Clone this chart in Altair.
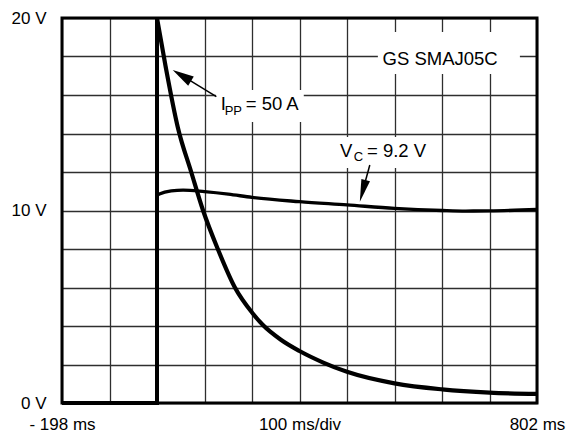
import altair as alt
import pandas as pd

# ---- data (x in divisions of 100 ms starting at -198 ms, y in volts / scale units) ----
cur_x = [2.0, 2.18, 2.44, 2.72, 2.97, 3.28, 3.64, 4.0, 4.23, 4.6, 5.0, 5.5, 6.0, 7.0, 8.0, 9.0, 10.0]
cur_y = [20.0, 17.5, 14.3, 12.0, 10.0, 8.0, 6.0, 4.7, 4.05, 3.3, 2.7, 2.1, 1.62, 1.02, 0.71, 0.54, 0.47]

vc_x = [2.0, 2.05, 2.3, 2.55, 3.0, 3.5, 4.0, 5.0, 6.0, 7.0, 8.0, 8.5, 9.0, 10.0]
vc_y = [10.8, 10.86, 11.02, 11.06, 10.98, 10.85, 10.68, 10.46, 10.29, 10.11, 10.0, 9.97, 9.98, 10.05]

step_x = [0.0, 2.0, 2.0]
step_cur_y = [0.0, 0.0, 20.0]
step_vc_y = [0.0, 0.0, 10.8]

x_ticks = list(range(11))
y_ticks = list(range(0, 21, 2))

FONT = "Liberation Sans"

curve_df = pd.concat([
    pd.DataFrame({"x": cur_x, "y": cur_y, "s": "I", "o": range(len(cur_x))}),
    pd.DataFrame({"x": vc_x, "y": vc_y, "s": "V", "o": range(len(vc_x))}),
])
step_df = pd.concat([
    pd.DataFrame({"x": step_x, "y": step_cur_y, "s": "I", "o": range(3)}),
    pd.DataFrame({"x": step_x, "y": step_vc_y, "s": "V", "o": range(3)}),
])

xs = alt.Scale(domain=[0, 10], nice=False, zero=False)
ys = alt.Scale(domain=[0, 20], nice=False, zero=False)

x_axis = alt.Axis(
    values=x_ticks, grid=True, ticks=False, domain=False, title=None,
    labelExpr="datum.value == 0 ? '- 198 ms' : datum.value == 5 ? '100 ms/div' : datum.value == 10 ? '802 ms' : ''",
    labelFontSize=17, labelFont=FONT, labelColor="black", labelPadding=13,
    labelOverlap=False, labelFlush=False, gridColor="#2e2e2e", gridWidth=1.3,
)
y_axis = alt.Axis(
    values=y_ticks, grid=True, ticks=False, domain=False, title=None,
    labelExpr="datum.value % 10 == 0 ? datum.value + ' V' : ''",
    labelFontSize=17, labelFont=FONT, labelColor="black", labelPadding=16,
    labelOverlap=False, labelFlush=False, gridColor="#2e2e2e", gridWidth=1.3,
)

curves = alt.Chart(curve_df).mark_line(interpolate="monotone", color="black", clip=False).encode(
    x=alt.X("x:Q", scale=xs, axis=x_axis),
    y=alt.Y("y:Q", scale=ys, axis=y_axis),
    detail="s:N",
    order="o:Q",
    strokeWidth=alt.condition("datum.s == 'I'", alt.value(4.2), alt.value(3.4)),
)
steps = alt.Chart(step_df).mark_line(color="black", strokeWidth=4, clip=False).encode(
    x=alt.X("x:Q", scale=xs, axis=x_axis), y=alt.Y("y:Q", scale=ys, axis=y_axis),
    detail="s:N", order="o:Q"
)


def px(v):
    return alt.datum(v, scale=xs, axis=x_axis)


def py(v):
    return alt.datum(v, scale=ys, axis=y_axis)


def box(x1, x2, y1, y2):
    return alt.Chart().mark_rect(color="white").encode(
        x=px(x1), x2=alt.datum(x2), y=py(y1), y2=alt.datum(y2)
    )


def txt(x, y, t, size=18.5, align="left"):
    return alt.Chart().mark_text(text=t, align=align, baseline="alphabetic", font=FONT,
                                 fontSize=size, color="black").encode(x=px(x), y=py(y))


def rule(x1, y1, x2, y2):
    return alt.Chart().mark_rule(color="black", strokeWidth=1.5).encode(
        x=px(x1), x2=alt.datum(x2), y=py(y1), y2=alt.datum(y2)
    )


def head(x, y, angle, half_w, size):
    path = f"M0,0L{half_w},2L-{half_w},2Z"
    return alt.Chart().mark_point(shape=path, filled=True, color="black", opacity=1,
                                  size=size, angle=angle, strokeWidth=0).encode(x=px(x), y=py(y))


border = alt.Chart().mark_rect(fill=None, stroke="black", strokeWidth=3).encode(
    x=px(0), x2=alt.datum(10), y=py(0), y2=alt.datum(20)
)

backs = [
    box(6.65, 9.64, 17.09, 19.27),
    box(3.24, 5.09, 14.6, 16.26),
    box(5.72, 7.79, 12.21, 13.82),
]
labels = [
    txt(7.96, 17.58, "GS SMAJ05C", align="center"),
    txt(3.34, 15.22, "I"),
    txt(3.424, 14.96, "PP", size=13),
    txt(3.867, 15.22, "= 50 A"),
    txt(5.85, 12.78, "V"),
    txt(6.14, 12.57, "C", size=13),
    txt(6.42, 12.78, "= 9.2 V"),
    rule(3.25, 15.91, 2.51, 17.03),
    head(2.33, 17.30, 301.4, 0.5, 460),
    rule(6.48, 12.36, 6.325, 10.96),
    head(6.27, 10.46, 195.2, 0.4, 500),
]

chart = alt.layer(curves, *backs, steps, border, *labels).properties(
    width=475, height=385,
    autosize=alt.AutoSizeParams(type="none"),
    padding={"left": 62, "top": 18, "right": 32, "bottom": 31},
).configure_view(stroke=None).configure(background="white")

chart.save("out.html", embed_options={"renderer": "svg", "actions": False})
